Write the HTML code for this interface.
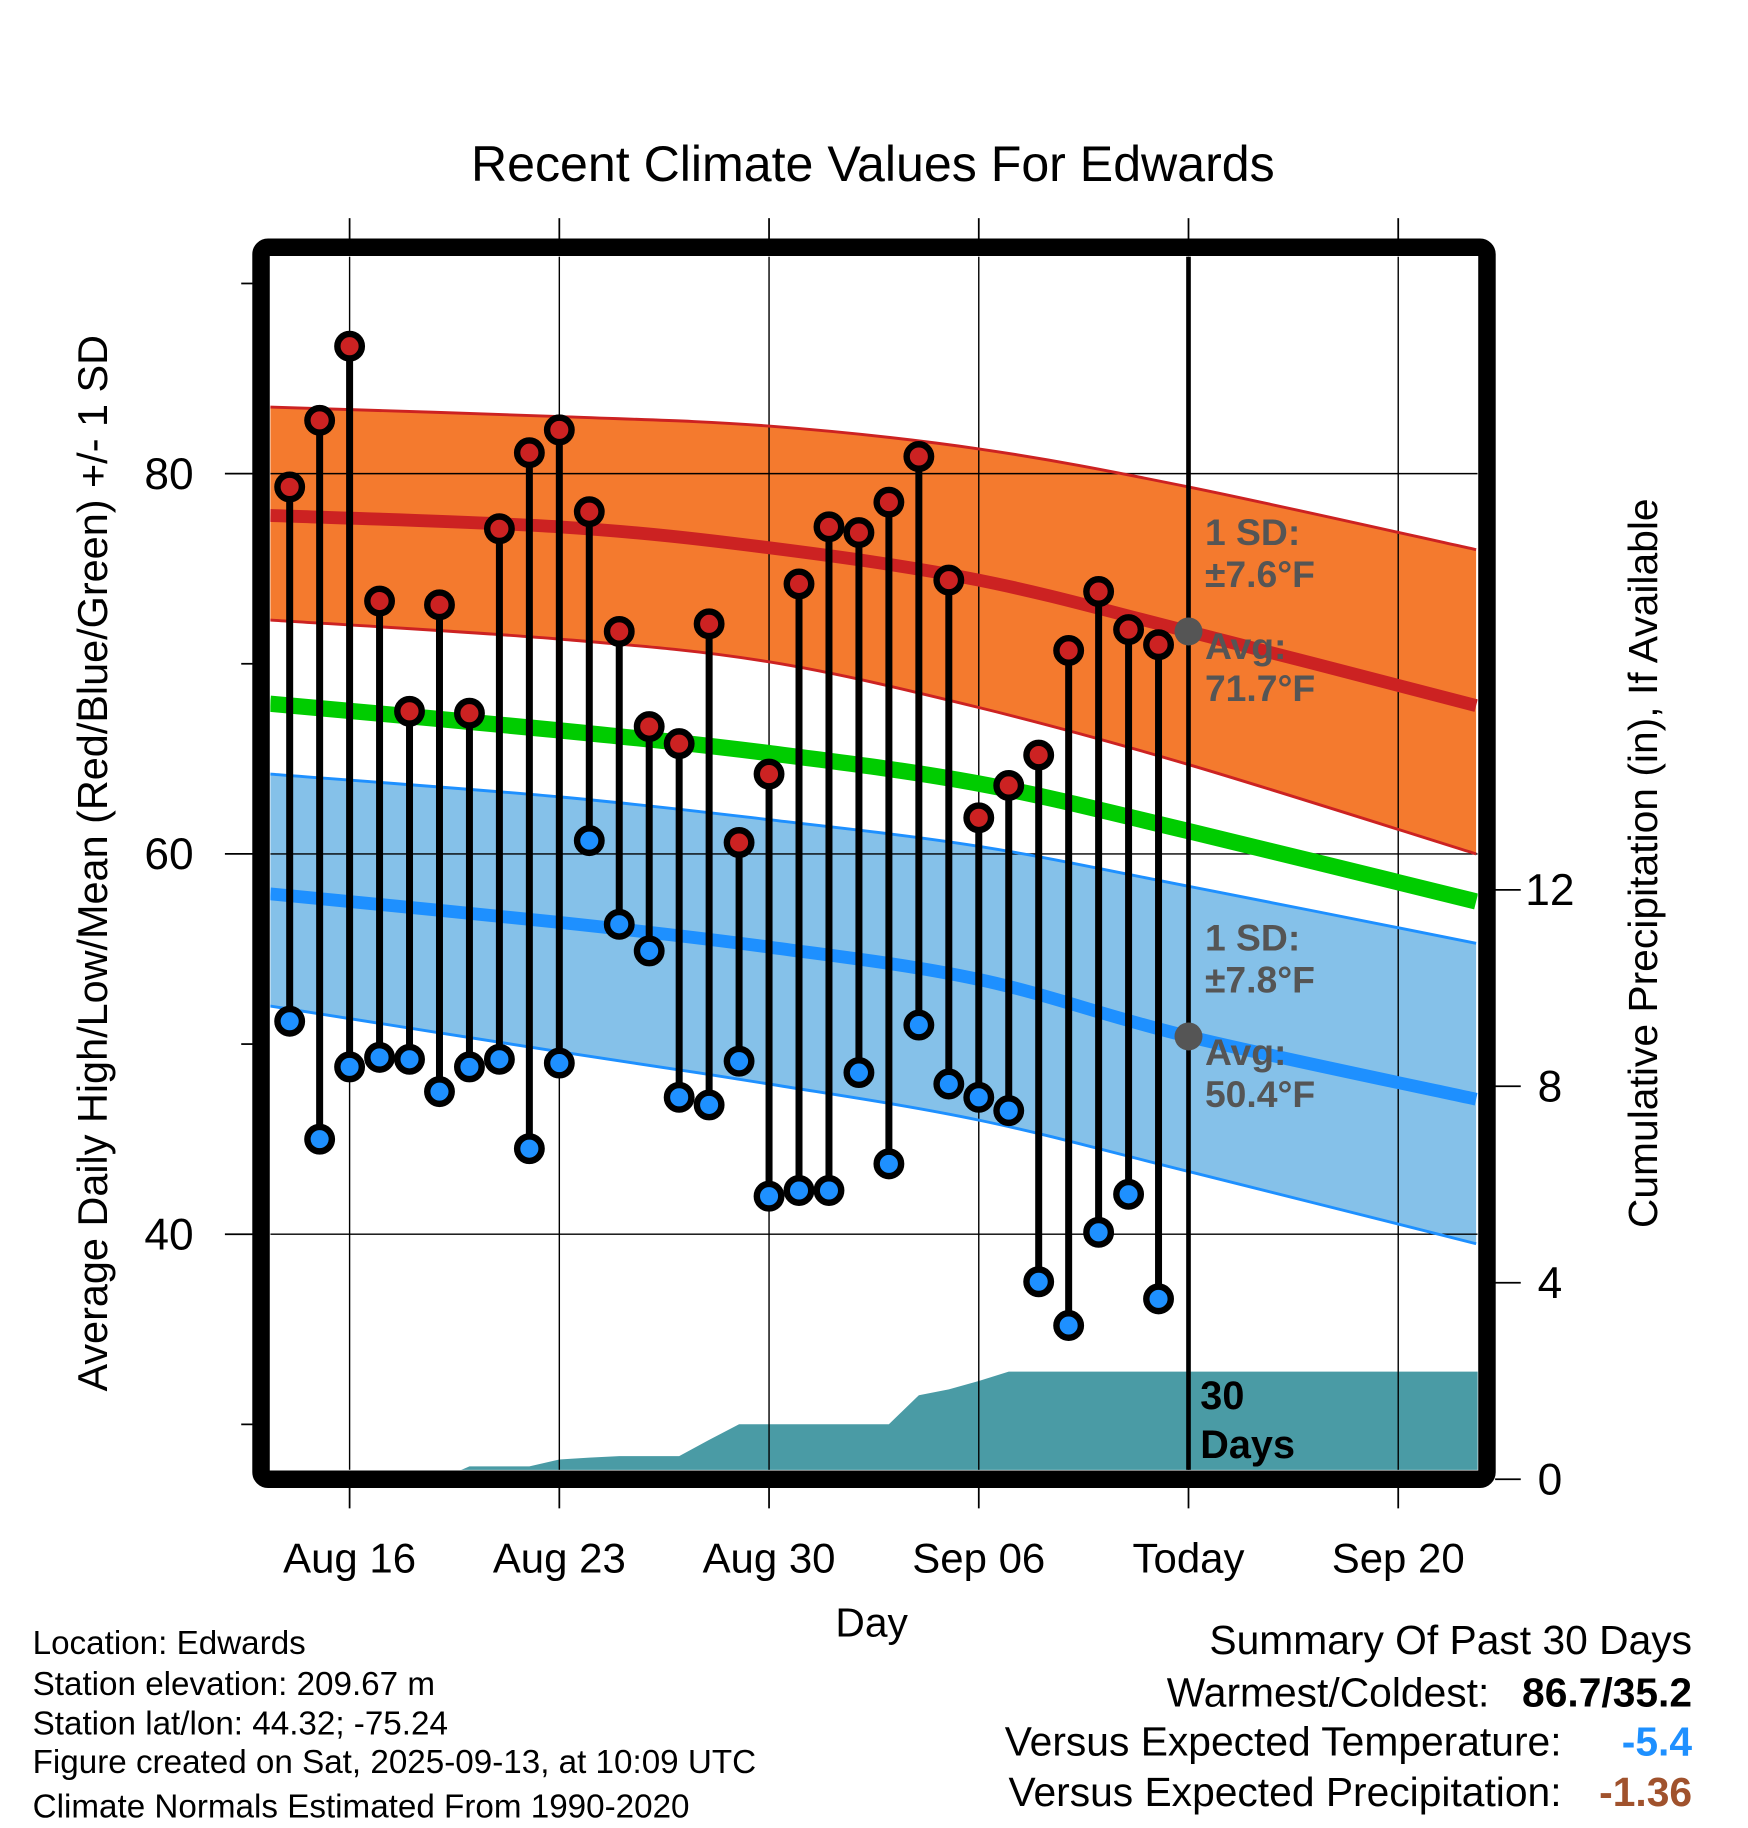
<!DOCTYPE html>
<html><head><meta charset="utf-8"><style>
html,body{margin:0;padding:0;background:#fff;}
svg{display:block;font-family:"Liberation Sans",Arial,sans-serif;}
</style></head><body>
<svg id="chart" width="1748" height="1828" viewBox="0 0 1500 1567" preserveAspectRatio="none" xmlns="http://www.w3.org/2000/svg">
<defs><clipPath id="plotclip"><rect x="232" y="220" width="1036" height="1040"/></clipPath></defs>
<g id="bg"></g>
<g id="marks" clip-path="url(#plotclip)"></g>
<g id="over"></g>
<text x="749" y="155" font-size="43" text-anchor="middle">Recent Climate Values For Edwards</text>
<text transform="translate(92,740) rotate(-90)" font-size="35.5" text-anchor="middle">Average Daily High/Low/Mean (Red/Blue/Green) +/- 1 SD</text>
<text transform="translate(1422,740) rotate(-90)" font-size="35" text-anchor="middle">Cumulative Precipitation (in), If Available</text>
<text x="748" y="1403" font-size="35" text-anchor="middle">Day</text>
<g font-size="28.5">
<text x="28" y="1418">Location: Edwards</text>
<text x="28" y="1453">Station elevation: 209.67 m</text>
<text x="28" y="1487">Station lat/lon: 44.32; -75.24</text>
<text x="28" y="1520">Figure created on Sat, 2025-09-13, at 10:09 UTC</text>
<text x="28" y="1558">Climate Normals Estimated From 1990-2020</text>
</g>
<g font-size="35">
<text x="1452" y="1418" text-anchor="end">Summary Of Past 30 Days</text>
<text x="1278" y="1463" text-anchor="end">Warmest/Coldest:</text>
<text x="1452" y="1463" text-anchor="end" font-weight="bold">86.7/35.2</text>
<text x="1340" y="1505" text-anchor="end">Versus Expected Temperature:</text>
<text x="1452" y="1505" text-anchor="end" font-weight="bold" fill="#1e90ff">-5.4</text>
<text x="1340" y="1548" text-anchor="end">Versus Expected Precipitation:</text>
<text x="1452" y="1548" text-anchor="end" font-weight="bold" fill="#a0522d">-1.36</text>
</g>
</svg>
<script>
// days offset from Aug 16
const normalDays = [-2.65, 7, 14, 21, 28, 37.6];
const highUpper = [83.5, 83.0, 82.5, 81.3, 79.3, 76.0];
const highMean  = [77.8, 77.2, 76.1, 74.4, 71.7, 67.8];
const highLower = [72.3, 71.3, 70.1, 67.7, 64.7, 60.0];
const meanMean  = [67.9, 66.5, 65.3, 63.7, 61.2, 57.5];
const lowUpper  = [64.2, 63.0, 61.8, 60.4, 58.3, 55.3];
const lowMean   = [57.9, 56.4, 55.1, 53.4, 50.4, 47.1];
const lowLower  = [52.0, 49.6, 47.9, 46.0, 43.3, 39.5];
const obsDays = [-2,-1,0,1,2,3,4,5,6,7,8,9,10,11,12,13,14,15,16,17,18,19,20,21,22,23,24,25,26,27];
const highs = [79.3,82.8,86.7,73.3,67.5,73.1,67.4,77.1,81.1,82.3,78.0,71.7,66.7,65.8,72.1,60.6,64.2,74.2,77.2,76.9,78.5,80.9,74.4,61.9,63.6,65.2,70.7,73.8,71.8,71.0];
const lows  = [51.2,45.0,48.8,49.3,49.2,47.5,48.8,49.2,44.5,49.0,60.7,56.3,54.9,47.2,46.8,49.1,42.0,42.3,42.3,48.5,43.7,51.0,47.9,47.2,46.5,37.5,35.2,40.1,42.1,36.6];
const precip = [0,0,0,0,0,0,0.26,0.26,0.26,0.4,0.44,0.47,0.47,0.47,0.8,1.12,1.12,1.12,1.12,1.12,1.12,1.71,1.83,2.0,2.19,2.19,2.19,2.19,2.19,2.19];
const xTickDays = [0,7,14,21,28,35];
const xTickLabels = ["Aug 16","Aug 23","Aug 30","Sep 06","Today","Sep 20"];
const yTicks = [40,60,80];
const yMinor = [30,50,70,90];
const pTicks = [0,4,8,12];

const NS="http://www.w3.org/2000/svg";
const X = d => 300 + d*25.71;
const Y = t => 406 - (t-80)*16.3;
const P = v => 1268 - v*42.1;
function mk(parent, tag, attrs){const e=document.createElementNS(NS,tag);for(const k in attrs)e.setAttribute(k,attrs[k]);document.getElementById(parent).appendChild(e);return e;}
function pts(ds, vs){return ds.map((d,i)=>X(d).toFixed(1)+","+Y(vs[i]).toFixed(1));}
// smooth path through points (Catmull-Rom)
function smooth(ds, vs){
  const p=ds.map((d,i)=>[X(d),Y(vs[i])]);
  let s="M"+p[0][0]+","+p[0][1];
  for(let i=0;i<p.length-1;i++){
    const p0=p[Math.max(0,i-1)],p1=p[i],p2=p[i+1],p3=p[Math.min(p.length-1,i+2)];
    const c1=[p1[0]+(p2[0]-p0[0])/6,p1[1]+(p2[1]-p0[1])/6];
    const c2=[p2[0]-(p3[0]-p1[0])/6,p2[1]-(p3[1]-p1[1])/6];
    s+=" C"+c1.join(",")+" "+c2.join(",")+" "+p2.join(",");
  }
  return s;
}
function smoothRev(ds,vs){
  const p=ds.map((d,i)=>[X(d),Y(vs[i])]).reverse();
  let s="";
  for(let i=0;i<p.length-1;i++){
    const p0=p[Math.max(0,i-1)],p1=p[i],p2=p[i+1],p3=p[Math.min(p.length-1,i+2)];
    const c1=[p1[0]+(p2[0]-p0[0])/6,p1[1]+(p2[1]-p0[1])/6];
    const c2=[p2[0]-(p3[0]-p1[0])/6,p2[1]-(p3[1]-p1[1])/6];
    s+=" C"+c1.join(",")+" "+c2.join(",")+" "+p2.join(",");
  }
  return s;
}

let e=mk('bg','rect',{x:232,y:220,width:1036,height:1040,fill:'#fff'});



function band(up,lo,color,name){
  const last=normalDays.length-1;
  const d=smooth(normalDays,up)+" L"+X(normalDays[last])+","+Y(lo[last])+smoothRev(normalDays,lo)+" Z";
  e=mk('marks','path',{d:d,fill:color});
  
  
}
band(highUpper,highLower,'#f47a2e','high-sd-band');
band(lowUpper,lowLower,'#85c1e9','low-sd-band');

let pp=[X(-3)+","+P(0)];
obsDays.forEach((d,i)=>pp.push(X(d)+","+P(precip[i])));
pp.push(X(38)+","+P(precip[precip.length-1]));
pp.push(X(38)+","+P(0));
e=mk('marks','polygon',{points:pp.join(' '),fill:'#4a9ba5'});



yTicks.forEach(t=>{
  e=mk('marks','line',{x1:232,x2:1268,y1:Y(t),y2:Y(t),stroke:'#000','stroke-width':1.2});
  
  
});
xTickDays.forEach(d=>{
  e=mk('marks','line',{x1:X(d),x2:X(d),y1:220,y2:1260,stroke:'#000','stroke-width':1.2});
  
  
});

function line(vals,color,w,name){
  e=mk('marks','path',{d:smooth(normalDays,vals),fill:'none',stroke:color,'stroke-width':w});
  
  
}
line(highUpper,'#cc2222',2.5,'high-upper-line');
line(highLower,'#cc2222',2.5,'high-lower-line');
line(highMean,'#cc2222',11,'high-mean-line');
line(meanMean,'#00cc00',14,'mean-line');
line(lowUpper,'#1e90ff',2.5,'low-upper-line');
line(lowLower,'#1e90ff',2.5,'low-lower-line');
line(lowMean,'#1e90ff',11,'low-mean-line');

e=mk('marks','line',{x1:X(28),x2:X(28),y1:220,y2:1260,stroke:'#000','stroke-width':4});



obsDays.forEach((d,i)=>{
  e=mk('marks','line',{x1:X(d),x2:X(d),y1:Y(highs[i]),y2:Y(lows[i]),stroke:'#000','stroke-width':6});
  
  
});
obsDays.forEach((d,i)=>{
  e=mk('marks','circle',{cx:X(d),cy:Y(highs[i]),r:10.5,fill:'#cc2222',stroke:'#000','stroke-width':5.5});
  
  
  e=mk('marks','circle',{cx:X(d),cy:Y(lows[i]),r:10.5,fill:'#1e90ff',stroke:'#000','stroke-width':5.5});
  
  
});

e=mk('marks','circle',{cx:X(28),cy:Y(highMean[4]),r:12,fill:'#555'});


e=mk('marks','circle',{cx:X(28),cy:Y(lowMean[4]),r:12,fill:'#555'});



function txt(parent,x,y,s,size,attrs,name){
  e=mk(parent,'text',Object.assign({x:x,y:y,'font-size':size},attrs));
  e.textContent=s;
  
  
  return e;
}
const g={fill:'#555','font-weight':'bold'};
txt('over',1034,467,'1 SD:',32,g,'high-sd-label');
txt('over',1034,503,'±7.6°F',32,g,'high-sd-value');
txt('over',1034,565,'Avg:',32,g,'high-avg-label');
txt('over',1034,601,'71.7°F',32,g,'high-avg-value');
txt('over',1034,815,'1 SD:',32,g,'low-sd-label');
txt('over',1034,851,'±7.8°F',32,g,'low-sd-value');
txt('over',1034,913,'Avg:',32,g,'low-avg-label');
txt('over',1034,949,'50.4°F',32,g,'low-avg-value');
txt('over',1030,1208,'30',34,{'font-weight':'bold'},'days-label-number');
txt('over',1030,1250,'Days',34,{'font-weight':'bold'},'days-label-text');

e=mk('over','rect',{x:224,y:212,width:1052,height:1056,rx:6,fill:'none',stroke:'#000','stroke-width':15});



xTickDays.forEach((d,i)=>{
  e=mk('over','line',{x1:X(d),x2:X(d),y1:187,y2:205,stroke:'#000','stroke-width':1.5});
  
  
  e=mk('over','line',{x1:X(d),x2:X(d),y1:1275,y2:1293,stroke:'#000','stroke-width':1.5});
  
  
  txt('over',X(d),1348,xTickLabels[i],36,{'text-anchor':'middle'},'x-tick-label');
});
yTicks.forEach(t=>{
  e=mk('over','line',{x1:193,x2:217,y1:Y(t),y2:Y(t),stroke:'#000','stroke-width':1.5});
  
  
  txt('over',145,Y(t)+13,String(t),38,{'text-anchor':'middle'},'y-tick-label');
});
yMinor.forEach(t=>{
  e=mk('over','line',{x1:207,x2:217,y1:Y(t),y2:Y(t),stroke:'#000','stroke-width':1.5});
  
  
});
pTicks.forEach(v=>{
  e=mk('over','line',{x1:1283,x2:1305,y1:P(v),y2:P(v),stroke:'#000','stroke-width':1.5});
  
  
  txt('over',1330,P(v)+13,String(v),38,{'text-anchor':'middle'},'y2-tick-label');
});
</script>
</body></html>
